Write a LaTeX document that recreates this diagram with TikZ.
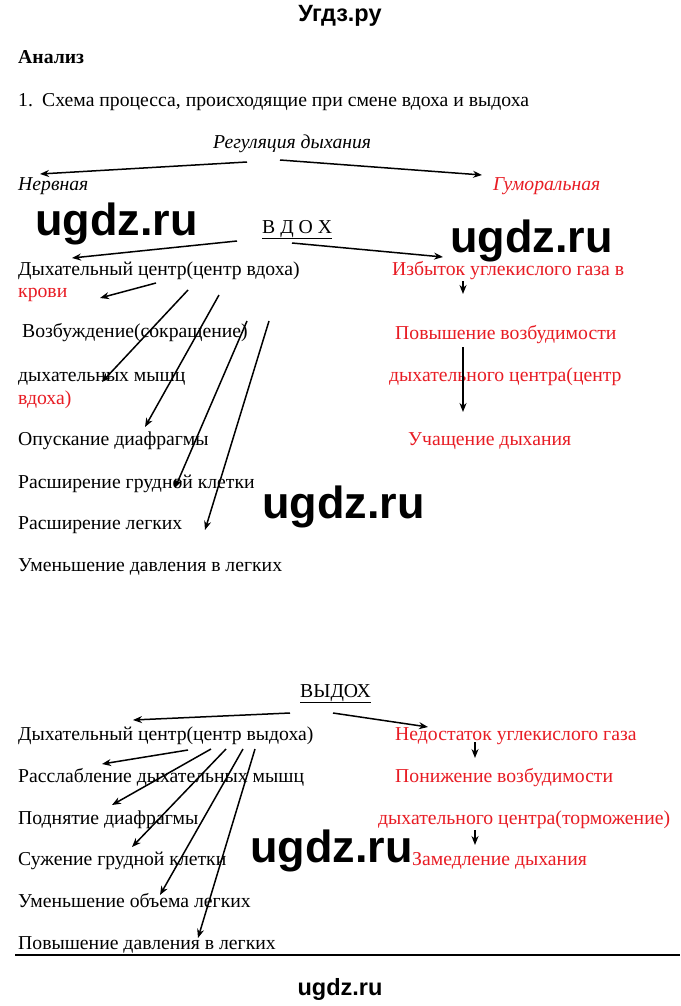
\documentclass[tikz,border=0pt]{standalone}
\usepackage{fontspec}
\setmainfont{Liberation Serif}
\newfontfamily\wmfont{Liberation Sans}
\usetikzlibrary{arrows.meta}
\definecolor{redtxt}{RGB}{232,28,36}
\begin{document}
\begin{tikzpicture}[x=1pt,y=-1pt,
  txt/.style={anchor=base west,inner sep=0pt,font=\fontsize{19.7}{23}\selectfont},
  rtxt/.style={txt,text=redtxt},
  itxt/.style={txt,font=\fontsize{19.7}{23}\selectfont\itshape},
  wmark/.style={anchor=base west,inner sep=0pt,font=\wmfont\bfseries\fontsize{45}{50}\selectfont},
  smallwm/.style={anchor=base,inner sep=0pt,font=\wmfont\bfseries\fontsize{23.5}{26}\selectfont},
  arr/.style={line width=1.5pt,-{Stealth[length=9pt,width=7pt]}}]
\fill[white] (0,0) rectangle (680,1006);
\useasboundingbox (0,0) rectangle (680,1006);

\node[smallwm] (hdr) at (340,22) {Угдз.ру};
\node[txt,font=\bfseries\fontsize{19.7}{23}\selectfont] (an) at (18,64) {Анализ};
\node[txt] (n1) at (18,107) {1.};
\node[txt] (title) at (42,107) {Схема процесса, происходящие при смене вдоха и выдоха};
\node[itxt] (reg) at (213,148) {Регуляция дыхания};
\node[itxt] (nerv) at (18,190) {Нервная};
\node[itxt,text=redtxt] (gum) at (493,190) {Гуморальная};

\node[txt] (vdoh) at (262,233) {\underline{В Д О Х}};
\node[txt] (dc1) at (18,275) {Дыхательный центр(центр вдоха)};
\node[rtxt] (izb) at (392,275) {Избыток углекислого газа в};
\node[rtxt] (krovi) at (18,297) {крови};
\node[txt] (vozb) at (22,337) {Возбуждение(сокращение)};
\node[rtxt] (pov) at (395,339) {Повышение возбудимости};
\node[txt] (dm) at (18,381) {дыхательных мышц};
\node[rtxt] (dcc) at (389,381) {дыхательного центра(центр};
\node[rtxt] (vdoha) at (18,404) {вдоха)};
\node[txt] (opusk) at (18,445) {Опускание диафрагмы};
\node[rtxt] (uch) at (408,445) {Учащение дыхания};
\node[txt] (rgk) at (18,488) {Расширение грудной клетки};
\node[txt] (rl) at (18,529) {Расширение легких};
\node[txt] (umd) at (18,571) {Уменьшение давления в легких};

\node[txt] (vydoh) at (300,697) {\underline{ВЫДОХ}};
\node[txt] (dc2) at (18,740) {Дыхательный центр(центр выдоха)};
\node[rtxt] (ned) at (395,740) {Недостаток углекислого газа};
\node[txt] (rasl) at (18,782) {Расслабление дыхательных мышц};
\node[rtxt] (ponizh) at (395,782) {Понижение возбудимости};
\node[txt] (podn) at (18,824) {Поднятие диафрагмы};
\node[rtxt] (dct) at (378,824) {дыхательного центра(торможение)};
\node[txt] (suzh) at (18,865) {Сужение грудной клетки};
\node[rtxt] (zam) at (412,865) {Замедление дыхания};
\node[txt] (umo) at (18,907) {Уменьшение объема легких};
\node[txt] (povd) at (18,949) {Повышение давления в легких};

\coordinate (l1) at (15,955);
\coordinate (l2) at (680,955);
\draw[line width=1.2pt] (l1) -- (l2);

\foreach \n/\sx/\sy/\ex/\ey in {
  a1/247/162/40/174, a2/280/160/482/175,
  a3/237/241/72/258, a4/292/243/443/257,
  a5/156/283/100/298, a6/188/290/102/382,
  a7/219/295/145/427, a8/247/321/175/488,
  a9/269/321/205/530, a10/463/281/463/294,
  a11/463/347/463/412,
  b1/290/713/133/720, b2/333/713/428/727,
  b3/475/742/475/758, b4/188/750/102/764,
  b5/211/749/112/805, b6/226/749/132/847,
  b7/243/749/160/895, b8/255/749/198/938,
  b9/475/830/475/845}{
  \coordinate (\n s) at (\sx,\sy);
  \coordinate (\n e) at (\ex,\ey);
  \draw[arr] (\n s) -- (\n e);
}

\node[wmark] (wm1) at (35,235) {ugdz.ru};
\node[wmark] (wm2) at (450,252) {ugdz.ru};
\node[wmark] (wm3) at (262,518) {ugdz.ru};
\node[wmark] (wm4) at (250,862) {ugdz.ru};
\node[smallwm] (ftr) at (340,995) {ugdz.ru};
\end{tikzpicture}
\end{document}
